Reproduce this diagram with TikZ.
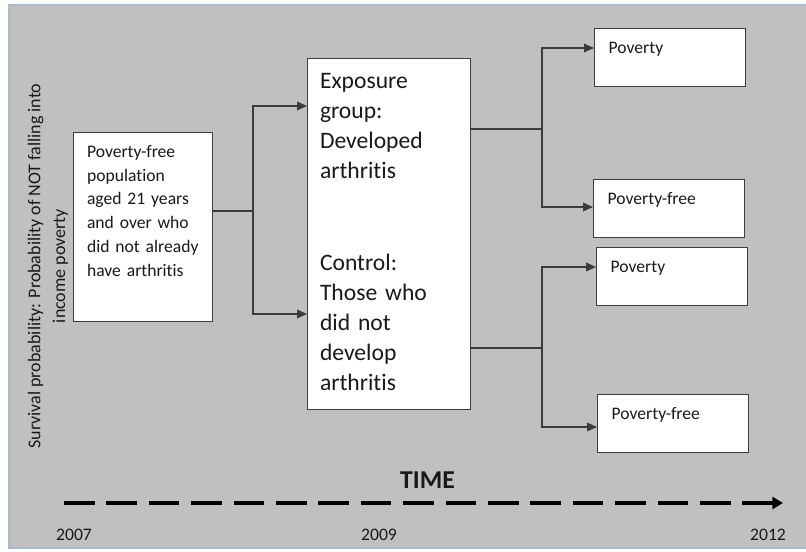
\documentclass[tikz,border=0pt]{standalone}
\usepackage{fontspec}
\setmainfont{Carlito}[Ligatures=NoCommon]
\usetikzlibrary{arrows.meta}
\definecolor{panel}{HTML}{C0C0C0}
\definecolor{frame}{HTML}{A9BCCF}
\definecolor{ink}{HTML}{3C3C3C}
\tikzset{
  >={Triangle[length=7.5pt,width=6.5pt]},
  every node/.style={font=\fontsize{13.2}{17.85}\selectfont, text=black!90},
  box/.style={draw=ink, line width=1.1pt, fill=white, anchor=north west, align=left, text height=10pt},
  start/.style={box, inner xsep=10pt, inner ysep=8.4pt, text width=84.25pt, text depth=114.95pt},
  groupbox/.style={box, font=\fontsize{17.7}{22.5}\selectfont, inner xsep=9.2pt, inner ysep=9.5pt,
    text height=13pt, text width=103.85pt, text depth=231.25pt},
  outcome/.style={box, inner xsep=10.5pt, inner ysep=8.75pt, text width=92.25pt, text depth=16pt},
  link/.style={draw=ink, line width=1.1pt},
  timeline/.style={line width=2.5pt, dash pattern=on 23pt off 8.8pt, -{Triangle[length=8pt,width=9pt]}},
}

\begin{document}
\begin{tikzpicture}[x=0.75pt, y=-0.75pt]
        \useasboundingbox (0,0) rectangle (806,552);
        % panel
        \draw[frame, line width=1.2pt, fill=panel] (806,5) -- (9,5) -- (9,548) -- (806,548);

        % axis label
        \node[rotate=90, align=center, font=\fontsize{13.5}{18.5}\selectfont] (survival) at (48,266)
          {Survival probability: Probability of NOT falling into\\ income poverty};

        % boxes
        \node[start] (pop) at (73,132) {Poverty-free\\ population\\ aged 21 years\\ and over who\\ did not already\\ have arthritis};
        \node[groupbox] (groups) at (307,58) {Exposure\\ group:\\ Developed\\ arthritis\\[46.5pt] Control:\\ Those who\\ did not\\ develop\\ arthritis};
        \node[outcome] (expPov) at (594,28) {Poverty};
        \node[outcome] (expFree) at (593,179) {Poverty-free};
        \node[outcome] (ctlPov) at (596,247) {Poverty};
        \node[outcome] (ctlFree) at (597,394) {Poverty-free};

        % forks
        \coordinate (fork1) at (253,211);
        \coordinate (fork2) at (542,129);
        \coordinate (fork3) at (542,348);

        % connectors
        \draw[link] (pop.east |- fork1) -- (fork1);
        \draw[link, ->] (fork1) |- (groups.west |- 0,106);
        \draw[link, ->] (fork1) |- (groups.west |- 0,314);
        \draw[link] (groups.east |- fork2) -- (fork2);
        \draw[link, ->] (fork2) |- (expPov.west |- 0,48);
        \draw[link, ->] (fork2) |- (expFree.west |- 0,207);
        \draw[link] (groups.east |- fork3) -- (fork3);
        \draw[link, ->] (fork3) |- (ctlPov.west |- 0,267);
        \draw[link, ->] (fork3) |- (ctlFree.west |- 0,427);

        % time axis
        \node[anchor=base, font=\fontsize{19.3}{22}\selectfont\bfseries] (time) at (427.5,488) {TIME};
        \coordinate (t0) at (64,503);
        \coordinate (t1) at (783,503);
        \draw[timeline] (t0) -- (t1);
        \node[anchor=base] (y2007) at (74,540) {2007};
        \node[anchor=base] (y2009) at (379,540) {2009};
        \node[anchor=base] (y2012) at (768,540) {2012};
\end{tikzpicture}
\end{document}
